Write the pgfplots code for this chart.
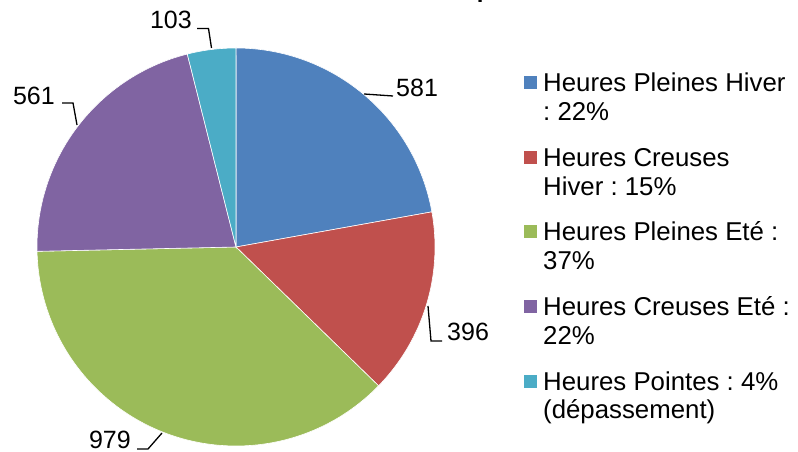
\documentclass[border=0pt]{standalone}
\usepackage{pgfplots}
\pgfplotsset{compat=1.18}
\usepackage{fontspec}
\setmainfont{Liberation Sans}
\frenchspacing
\definecolor{cA}{HTML}{4F81BD}
\definecolor{cB}{HTML}{C0504D}
\definecolor{cC}{HTML}{9BBB59}
\definecolor{cD}{HTML}{8064A2}
\definecolor{cE}{HTML}{4BACC6}
\tikzset{lbl/.style={font=\fontsize{25}{30}\selectfont, inner sep=0pt, text=black},
         leg/.style={font=\fontsize{25.8}{30}\selectfont, inner sep=0pt, text=black},
         ldr/.style={black, line width=1.3pt}}
\begin{document}
\begin{tikzpicture}
\path[use as bounding box] (0,0) rectangle (798pt,452pt);
% data values
\def\vA{581}\def\vB{396}\def\vC{979}\def\vD{561}\def\vE{103}
\pgfmathsetmacro\tot{\vA+\vB+\vC+\vD+\vE}
\pgfmathsetmacro\aA{90}
\pgfmathsetmacro\aB{\aA-360*(\vA/\tot)}
\pgfmathsetmacro\aC{\aB-360*(\vB/\tot)}
\pgfmathsetmacro\aD{\aC-360*(\vC/\tot)}
\pgfmathsetmacro\aE{\aD-360*(\vD/\tot)}
\pgfmathsetmacro\aF{\aE-360*(\vE/\tot)}
\begin{axis}[x=1pt,y=1pt,xmin=0,xmax=798,ymin=0,ymax=452,hide axis,clip=false,
  anchor=origin,at={(0pt,0pt)}]
\fill[cA,draw=white,line width=0.6pt] (axis cs:236,205) -- ++(\aA:199pt) arc[start angle=\aA,end angle=\aB,radius=199pt] -- cycle;
\fill[cB,draw=white,line width=0.6pt] (axis cs:236,205) -- ++(\aB:199pt) arc[start angle=\aB,end angle=\aC,radius=199pt] -- cycle;
\fill[cC,draw=white,line width=0.6pt] (axis cs:236,205) -- ++(\aC:199pt) arc[start angle=\aC,end angle=\aD,radius=199pt] -- cycle;
\fill[cD,draw=white,line width=0.6pt] (axis cs:236,205) -- ++(\aD:199pt) arc[start angle=\aD,end angle=\aE,radius=199pt] -- cycle;
\fill[cE,draw=white,line width=0.6pt] (axis cs:236,205) -- ++(\aE:199pt) arc[start angle=\aE,end angle=\aF,radius=199pt] -- cycle;
% leader lines
\draw[ldr] (axis cs:364,358) -- (axis cs:393,356);
\draw[ldr] (axis cs:428,146) -- (axis cs:431,111) -- (axis cs:442,111);
\draw[ldr] (axis cs:162,19) -- (axis cs:148,3) -- (axis cs:137,3);
\draw[ldr] (axis cs:77,327) -- (axis cs:73,349) -- (axis cs:62,349);
\draw[ldr] (axis cs:211.5,404) -- (axis cs:208.5,423.5) -- (axis cs:197,423.5);
% data labels
\node[lbl,anchor=base west] at (axis cs:396,355) {581};
\node[lbl,anchor=base west] at (axis cs:447,111) {396};
\node[lbl,anchor=base east] at (axis cs:131,3) {979};
\node[lbl,anchor=base east] at (axis cs:55,347) {561};
\node[lbl,anchor=base east] at (axis cs:192,423) {103};
% title (clipped at top)
\node[font=\bfseries\fontsize{24}{29}\selectfont,inner sep=0pt,anchor=base west] at (axis cs:446,454) {Répartition des consommations};
% legend
\fill[cA] (axis cs:524,363) rectangle ++(13pt,13pt);
\fill[cB] (axis cs:524,288) rectangle ++(13pt,13pt);
\fill[cC] (axis cs:524,214) rectangle ++(13pt,13pt);
\fill[cD] (axis cs:524,139) rectangle ++(13pt,13pt);
\fill[cE] (axis cs:524,64) rectangle ++(13pt,13pt);
\node[leg,anchor=base west] at (axis cs:543,360) {Heures Pleines Hiver};
\node[leg,anchor=base west] at (axis cs:543,331) {: 22\%};
\node[leg,anchor=base west] at (axis cs:543,285) {Heures Creuses};
\node[leg,anchor=base west] at (axis cs:543,256) {Hiver : 15\%};
\node[leg,anchor=base west] at (axis cs:543,211) {Heures Pleines Eté :};
\node[leg,anchor=base west] at (axis cs:543,182) {37\%};
\node[leg,anchor=base west] at (axis cs:543,136) {Heures Creuses Eté :};
\node[leg,anchor=base west] at (axis cs:543,107) {22\%};
\node[leg,anchor=base west] at (axis cs:543,61) {Heures Pointes : 4\%};
\node[leg,anchor=base west] at (axis cs:543,33) {(dépassement)};
\end{axis}
\end{tikzpicture}
\end{document}
